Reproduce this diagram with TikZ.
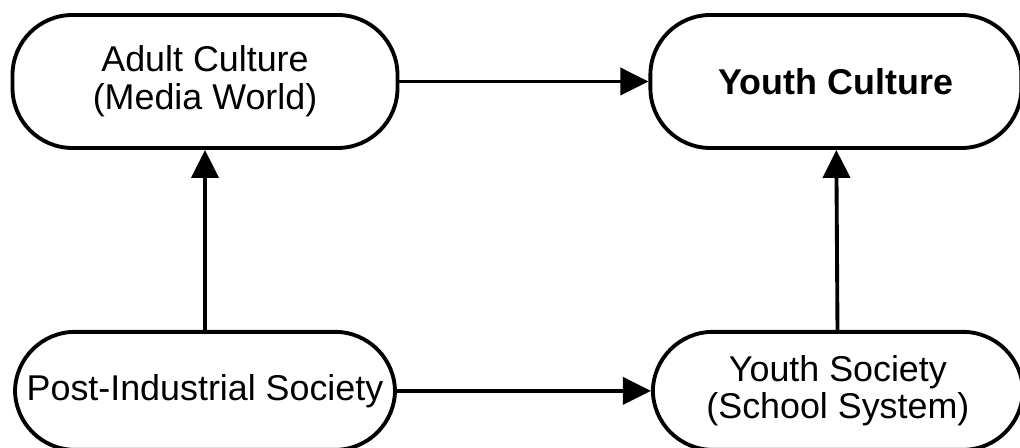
\documentclass[tikz,border=0pt]{standalone}
\usepackage{fontspec}
\setmainfont{Liberation Sans}
\usepackage{tikz}
\usetikzlibrary{arrows.meta, positioning}

\begin{document}
\begin{tikzpicture}[
    font=\fontsize{10.2}{10.7}\selectfont,
    line width=1.1pt,
    >={Triangle[length=2.8mm, width=2.7mm]},
    pill/.style={rectangle, draw, rounded corners=0.6cm, align=center, inner sep=0pt},
]
    \useasboundingbox (0,0) rectangle (10.2,4.48);

    \node[pill, minimum width=3.85cm, minimum height=1.33cm] (adult) at (2.05,3.665) {Adult Culture\\(Media World)};
    \node[pill, minimum width=3.71cm, minimum height=1.33cm, right=2.49cm of adult] (youthcult) {\textbf{Youth Culture}};

    \node[pill, minimum width=3.80cm, minimum height=1.18cm, below=1.8cm of adult] (postind) {Post-Industrial Society};
    \node[pill, minimum width=3.70cm, minimum height=1.18cm, right=2.54cm of postind] (youthsoc) {Youth Society\\(School System)};

    \draw[->] (adult) -- (youthcult);
    \draw[->] (postind) -- (youthsoc);
    \draw[->] (postind) -- (adult);
    \draw[->] (youthsoc) -- (youthcult);

\end{tikzpicture}
\end{document}
